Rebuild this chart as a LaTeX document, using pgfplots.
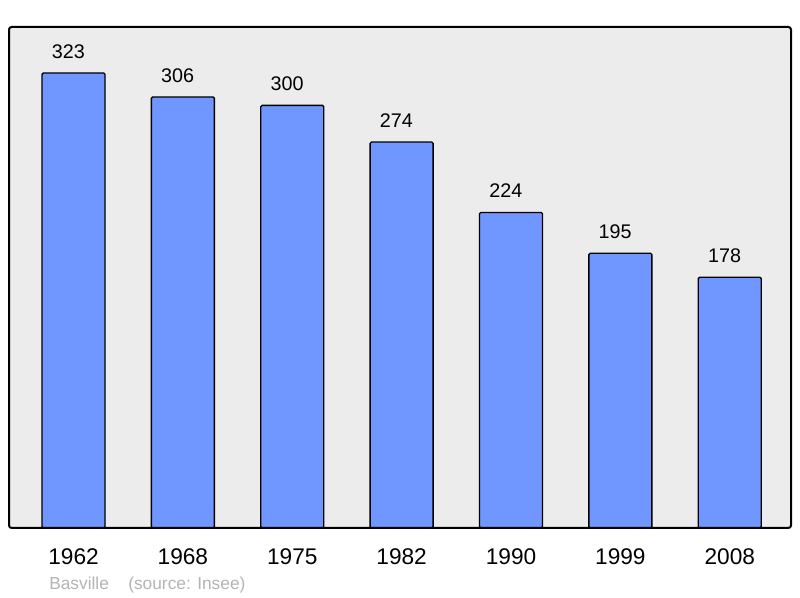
\documentclass[border=0pt]{standalone}
\usepackage{pgfplots}
\pgfplotsset{compat=1.18}
\usepackage{fontspec}
\setmainfont{Liberation Sans}
\definecolor{barblue}{RGB}{112,150,255}
\definecolor{bgray}{RGB}{236,236,236}
\definecolor{srcgray}{RGB}{180,180,180}
\begin{document}
\begin{tikzpicture}[x=1pt,y=1pt]
\useasboundingbox (-6.75pt,-52.5pt) rectangle (593.25pt,396pt);
\begin{axis}[
  anchor=south west, at={(0pt,0pt)},
  scale only axis,
  width=586.5pt, height=375.75pt,
  xmin=-0.59, xmax=6.56,
  ymin=0, ymax=355.65,
  axis line style={draw=none},
  axis background/.style={fill=bgray},
  ytick=\empty,
  xtick={0,1,2,3,4,5,6},
  xticklabels={1962,1968,1975,1982,1990,1999,2008},
  major tick length=0pt,
  xticklabel style={anchor=base, yshift=-27.75pt, font=\fontsize{17}{20}\selectfont},
  clip=false,
  nodes near coords,
  every node near coord/.append style={anchor=base, xshift=-3.9pt, yshift=10.9pt, font=\fontsize{14.8}{17}\selectfont, text=black},
  /pgf/number format/assume math mode=true,
]
\addplot[ybar, bar width=47.25pt, fill=barblue, draw=black, line width=1pt, rounded corners=1pt]
  coordinates {(0,323) (1,306) (2,300) (3,274) (4,224) (5,195) (6,178)};
\draw[line width=1.5pt, rounded corners=2pt] (rel axis cs:0,0) rectangle (rel axis cs:1,1);
\node[anchor=base west, text=srcgray, font=\fontsize{13}{15}\selectfont, inner sep=0pt] at ([xshift=30pt,yshift=-46.5pt]rel axis cs:0,0) {Basville};
\node[anchor=base west, text=srcgray, font=\fontsize{13}{15}\selectfont, inner sep=0pt] at ([xshift=89.25pt,yshift=-46.5pt]rel axis cs:0,0) {(source: Insee)};
\end{axis}
\end{tikzpicture}
\end{document}
